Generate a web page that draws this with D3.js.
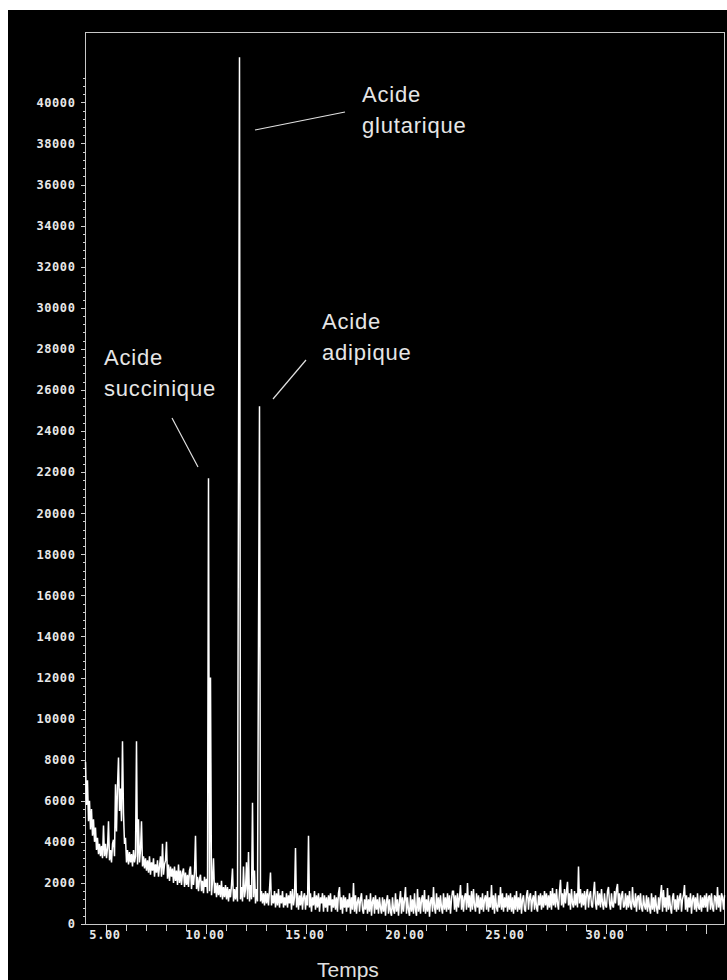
<!DOCTYPE html>
<html>
<head>
<meta charset="utf-8">
<script src="https://cdn.jsdelivr.net/npm/d3@7"></script>
<style>
  body { margin: 0; background: #fff; }
  svg { display: block; }
</style>
</head>
<body>
<div id="chart"></div>
<script>
// sampling of the trace (minutes)
const startTime = 4.0;
const timeStep = 0.05;

// detector signal, one row per minute (20 samples)
const intensity = [
  7900, 5800, 7000, 5000, 6000, 4600, 5600, 4300, 5100, 4000, 4700, 3600, 4200, 3400, 3900, 3300, 3800, 3200, 4800, 3300,
  3900, 3200, 3700, 5000, 3100, 3600, 3000, 3900, 4100, 3300, 6800, 4500, 6700, 8100, 5500, 6600, 5000, 8900, 5400, 3900,
  4200, 3000, 3600, 2900, 3500, 3000, 3400, 2800, 3600, 3000, 3300, 8900, 2900, 5100, 3000, 3600, 5000, 2800, 3300, 2700,
  3200, 2600, 3100, 2500, 3300, 2400, 3000, 2600, 3200, 2300, 2900, 2500, 3100, 2300, 2800, 3300, 2300, 3900, 2400, 2900,
  3100, 4000, 2200, 2900, 2100, 2800, 2300, 2700, 2000, 2800, 2100, 2600, 1900, 2900, 2000, 2600, 1900, 2500, 2700, 1800,
  2500, 1900, 2400, 1800, 2600, 2800, 1700, 2400, 1900, 2500, 4300, 1700, 2300, 1600, 2200, 2400, 1600, 2100, 1500, 2300,
  1800, 2200, 1500, 21700, 1600, 12000, 1400, 2100, 3200, 1500, 2000, 1300, 2000, 1400, 1900, 1300, 2100, 1200, 1800, 1300,
  1900, 1200, 1800, 1100, 1700, 1300, 1900, 2700, 1100, 1700, 1200, 1800, 1100, 22000, 42200, 1200, 1800, 1100, 2800, 1300,
  1700, 3000, 1200, 3500, 1100, 1900, 1200, 5900, 1300, 2600, 1000, 1700, 1100, 14000, 25200, 1100, 1600, 1000, 1500, 900,
  1600, 1000, 1500, 900, 1700, 2500, 900, 1400, 1000, 1600, 800, 1500, 900, 1700, 800, 1400, 1000, 1600, 800, 1300,
  900, 1500, 800, 1400, 1000, 1600, 700, 1700, 900, 1300, 3700, 800, 1500, 700, 1400, 900, 1600, 700, 1300, 1500,
  700, 1400, 900, 4300, 800, 1500, 600, 1300, 900, 1600, 700, 1400, 800, 1500, 600, 1300, 1000, 1500, 600, 1400,
  800, 1300, 600, 1400, 900, 1500, 600, 1200, 800, 1400, 700, 1300, 600, 1500, 1800, 700, 1300, 500, 1400, 800,
  1300, 600, 1200, 800, 1500, 500, 1300, 700, 2000, 600, 1400, 500, 1100, 1300, 600, 1200, 1500, 700, 500, 1200,
  700, 1400, 500, 1200, 600, 1500, 400, 1100, 1300, 500, 1400, 700, 1200, 500, 1300, 800, 500, 1300, 600, 1200,
  400, 1100, 1400, 500, 1200, 600, 400, 1300, 700, 500, 1500, 600, 1200, 400, 1100, 1600, 500, 1300, 600, 1200,
  1800, 500, 1300, 700, 400, 1400, 600, 1200, 500, 1500, 700, 400, 1700, 600, 1300, 500, 1200, 1400, 600, 1650,
  500, 1200, 600, 1400, 350, 1100, 1300, 600, 1800, 800, 500, 1500, 700, 1300, 600, 1400, 800, 500, 1500, 700,
  1300, 600, 1500, 700, 1400, 500, 1200, 1600, 1600, 700, 1400, 600, 1500, 800, 1300, 1900, 700, 1400, 600, 1300,
  1500, 700, 2000, 800, 1400, 600, 1600, 700, 1700, 900, 600, 1500, 800, 1400, 500, 1300, 700, 1500, 600, 1200,
  1400, 700, 1600, 600, 1300, 800, 1900, 700, 1400, 500, 1500, 800, 600, 1400, 800, 1800, 700, 1500, 600, 1300,
  800, 1500, 600, 1400, 700, 1500, 600, 1300, 500, 1400, 700, 1600, 600, 1300, 700, 1500, 500, 1200, 1400, 700,
  600, 1400, 1650, 700, 1300, 1500, 600, 1200, 1400, 700, 1600, 800, 600, 1400, 900, 1500, 700, 1400, 800, 1600,
  900, 1500, 700, 1400, 800, 1600, 700, 1750, 900, 1500, 800, 1700, 1000, 700, 1600, 2150, 900, 1500, 800, 1700,
  1000, 1600, 2050, 900, 1500, 700, 1700, 1000, 800, 1600, 900, 1500, 800, 2800, 1000, 1700, 800, 1500, 900, 1600,
  700, 1500, 1700, 800, 1400, 1600, 900, 800, 1500, 2050, 1000, 700, 1600, 900, 1500, 800, 1700, 1000, 700, 1500,
  900, 800, 1600, 1800, 1000, 700, 1500, 900, 800, 1600, 1000, 1700, 1950, 900, 1500, 700, 1400, 1600, 800, 900,
  1500, 700, 1400, 800, 1600, 900, 700, 1800, 1000, 800, 1500, 600, 1300, 1400, 700, 1500, 800, 600, 1400, 900,
  700, 1400, 600, 1300, 800, 500, 1500, 700, 1300, 600, 1400, 800, 500, 1300, 700, 1400, 1900, 600, 1650, 800,
  1300, 600, 1750, 700, 1400, 800, 500, 1300, 1500, 700, 1200, 600, 1400, 700, 1300, 1500, 600, 1200, 1400, 1900,
  700, 1400, 600, 1300, 800, 1500, 500, 1200, 1400, 700, 1300, 600, 1500, 800, 700, 1400, 600, 1300, 800, 1400,
  800, 1500, 600, 1300, 1400, 700, 1500, 800, 600, 1400, 1300, 700, 1800, 800, 1400, 600, 1500, 1300, 700, 1400
];

// axis ticks
const xMajorTicks = [5, 10, 15, 20, 25, 30, 35];
const xLabelTicks = [5, 10, 15, 20, 25, 30];
const yMajorTicks = d3.range(0, 40001, 2000);

// annotated peaks
const peakNames = [
  ["Acide", "glutarique"],
  ["Acide", "adipique"],
  ["Acide", "succinique"]
];

(function(){
    const width = 727;
    const height = 980;
    const margin = { left: 85.5, right: 2.5, top: 32.5, bottom: 55.5 };

    const svg = d3.select("#chart")
        .append("svg")
        .attr("width", width)
        .attr("height", height);

    // black panel
    svg.append("rect")
        .attr("x", 8)
        .attr("y", 10)
        .attr("width", width - 8)
        .attr("height", height - 10)
        .attr("fill", "#000");

    const x = d3.scaleLinear()
        .domain([4, 35.95])
        .range([margin.left, width - margin.right]);

    const y = d3.scaleLinear()
        .domain([0, 43400])
        .range([height - margin.bottom - 0.5, margin.top]);

    const tickColor = "#d0d0d0";
    const labelFont = "'DejaVu Sans Mono', monospace";

    // x axis: minor then major ticks
    const xMinor = d3.range(5, 36, 1).filter(d => d % 5 !== 0);
    const xAxisMinor = svg.append("g")
        .attr("transform", `translate(0,${height - margin.bottom})`)
        .call(d3.axisBottom(x).tickValues(xMinor).tickSize(6).tickFormat(""));
    const xAxisMajor = svg.append("g")
        .attr("transform", `translate(0,${height - margin.bottom})`)
        .call(d3.axisBottom(x).tickValues(xMajorTicks).tickSize(9)
            .tickFormat(d => xLabelTicks.includes(d) ? d3.format(".2f")(d) : ""));

    // y axis
    const yMinor = d3.range(0, 41201, 400).filter(d => d % 2000 !== 0);
    const yAxisMinor = svg.append("g")
        .attr("transform", `translate(${margin.left},0)`)
        .call(d3.axisLeft(y).tickValues(yMinor).tickSize(2.5).tickFormat(""));
    const yAxisMajor = svg.append("g")
        .attr("transform", `translate(${margin.left},0)`)
        .call(d3.axisLeft(y).tickValues(yMajorTicks).tickSize(4.5).tickFormat(d3.format("d")));

    [xAxisMinor, xAxisMajor, yAxisMinor, yAxisMajor].forEach(g => {
        g.select(".domain").remove();
        g.selectAll("line").attr("stroke", tickColor).attr("shape-rendering", "crispEdges");
        g.selectAll("text")
            .attr("fill", "#e8e8e8")
            .style("font-family", labelFont)
            .style("font-weight", "bold")
            .style("font-size", "12px")
            .style("letter-spacing", "0.6px");
    });
    xAxisMajor.selectAll("text").attr("dy", "0.2em").attr("dx", "-1");
    yAxisMajor.selectAll("text").attr("x", -10);

    // frame
    svg.append("rect")
        .attr("x", margin.left)
        .attr("y", margin.top)
        .attr("width", width - margin.right - margin.left)
        .attr("height", height - margin.bottom - margin.top)
        .attr("fill", "none")
        .attr("stroke", "#c8c8c8")
        .attr("stroke-width", 1)
        .attr("shape-rendering", "crispEdges");

    // chromatogram trace
    const line = d3.line()
        .x((d, i) => x(startTime + i * timeStep))
        .y(d => y(d));

    svg.append("path")
        .datum(intensity)
        .attr("d", line)
        .attr("fill", "none")
        .attr("stroke", "#fff")
        .attr("stroke-width", 1.5)
        .attr("stroke-linejoin", "miter")
        .attr("stroke-miterlimit", 2);

    // peak annotations (label offsets in pixels)
    const annot = [
        { name: peakNames[0], tx: 362, ty: 102, l: [255, 130, 345, 112] },
        { name: peakNames[1], tx: 322, ty: 329, l: [273, 399, 306, 360] },
        { name: peakNames[2], tx: 104, ty: 365, l: [172, 418, 198, 467] }
    ];

    annot.forEach(a => {
        svg.append("line")
            .attr("x1", a.l[0]).attr("y1", a.l[1])
            .attr("x2", a.l[2]).attr("y2", a.l[3])
            .attr("stroke", "#e0e0e0")
            .attr("stroke-width", 1.2);

        const t = svg.append("text")
            .attr("x", a.tx)
            .attr("y", a.ty)
            .attr("fill", "#e6e6e6")
            .style("font-family", "'Liberation Sans', Arial, sans-serif")
            .style("font-size", "22px")
            .style("letter-spacing", "0.8px");
        a.name.forEach((s, k) => {
            t.append("tspan")
                .attr("x", a.tx)
                .attr("dy", k === 0 ? 0 : 31)
                .text(s);
        });
    });

    // axis title
    svg.append("text")
        .attr("x", 317)
        .attr("y", 977)
        .attr("fill", "#e0e0e0")
        .style("font-family", "'Liberation Sans', Arial, sans-serif")
        .style("font-size", "21px")
        .text("Temps");
})();
</script>
</body>
</html>
